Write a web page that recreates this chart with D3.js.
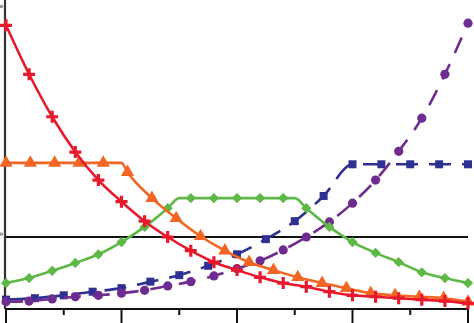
<!DOCTYPE html>
<html>
<head>
<meta charset="utf-8">
<script src="https://cdn.jsdelivr.net/npm/d3@7"></script>
<style>
  body { margin: 0; background: #fff; }
  .line { fill: none; stroke-width: 2.6; }
</style>
</head>
<body>
<svg id="draw"></svg>
<script>
// values (reference line = 1)
var xTicks = [0, 5, 10, 15, 20];
var xMinorTicks = [2.5, 7.5, 12.5, 17.5];

var redX = [0,1,2,3,4,5,6,7,8,9,10,11,12,13,14,15,16,17,18,19,20];
var redY = [3.94,3.26,2.67,2.18,1.79,1.49,1.22,1.0,0.81,0.65,0.54,0.44,0.36,0.31,0.24,0.19,0.17,0.15,0.13,0.11,0.08];

var orangeX = [0,1.053,2.105,3.158,4.211,5.263,6.316,7.368,8.421,9.474,10.526,11.579,12.632,13.684,14.737,15.789,16.842,17.895,18.947,20];
var orangeY = [2.03,2.03,2.03,2.03,2.03,1.90,1.54,1.26,1.01,0.81,0.65,0.54,0.44,0.36,0.29,0.22,0.19,0.17,0.15,0.10];
var orangeKink = [5, 2.03];

var greenX = [0,1,2,3,4,5,6,7,8,9,10,11,12,13,14,15,16,17,18,19,20];
var greenY = [0.36,0.43,0.53,0.64,0.76,0.93,1.14,1.40,1.54,1.54,1.54,1.54,1.54,1.40,1.14,0.93,0.78,0.65,0.51,0.43,0.36];
var greenKinks = [[7.5, 1.54], [12.5, 1.54]];

var blueX = [0,1.25,2.5,3.75,5,6.25,7.5,8.75,10,11.25,12.5,13.75,15,16.25,17.5,18.75,20];
var blueY = [0.13,0.15,0.19,0.24,0.29,0.38,0.47,0.60,0.76,0.97,1.22,1.57,2.01,2.01,2.01,2.01,2.01];

var purpleX = [0,1,2,3,4,5,6,7,8,9,10,11,12,13,14,15,16,17,18,19,20];
var purpleY = [0.10,0.11,0.14,0.17,0.19,0.22,0.26,0.32,0.38,0.46,0.56,0.67,0.82,1.00,1.21,1.47,1.79,2.19,2.65,3.26,3.97];

var width = 474, height = 323;

var svg = d3.select("#draw")
  .attr("width", width)
  .attr("height", height);

var xScale = d3.scaleLinear().domain([0, 20]).range([6, 468]);
var yScale = d3.scaleLinear().domain([0, 4.25]).range([309, 3]);

function pts(xs, ys) {
  return xs.map(function(x, i) { return [x, ys[i]]; });
}

var line = d3.line()
  .x(function(d) { return xScale(d[0]); })
  .y(function(d) { return yScale(d[1]); })
  .curve(d3.curveMonotoneX);

// y axis
svg.append("line")
  .attr("x1", 5).attr("x2", 5)
  .attr("y1", 0).attr("y2", yScale(0))
  .attr("stroke", "#333").attr("stroke-width", 2.2);

// stubs of cut-off labels on the left
svg.selectAll(".ystub")
  .data([4.2, 1.04])
  .enter().append("line")
  .attr("x1", 0).attr("x2", 3)
  .attr("y1", function(d) { return yScale(d); })
  .attr("y2", function(d) { return yScale(d); })
  .attr("stroke", "#999").attr("stroke-width", 3);

// reference line at 1
svg.append("line")
  .attr("x1", xScale(0)).attr("x2", xScale(20))
  .attr("y1", yScale(1)).attr("y2", yScale(1))
  .attr("stroke", "#111").attr("stroke-width", 2);

// x axis
var xAxis = svg.append("g")
  .attr("transform", "translate(0," + yScale(0) + ")");
xAxis.append("line")
  .attr("x1", xScale(0) - 1).attr("x2", xScale(20) + 1)
  .attr("stroke", "#111").attr("stroke-width", 2);
xAxis.selectAll(".major")
  .data(xTicks)
  .enter().append("line")
  .attr("x1", function(d) { return xScale(d); })
  .attr("x2", function(d) { return xScale(d); })
  .attr("y1", 0).attr("y2", 16)
  .attr("stroke", "#111").attr("stroke-width", 2);
xAxis.selectAll(".minor")
  .data(xMinorTicks)
  .enter().append("line")
  .attr("x1", function(d) { return xScale(d); })
  .attr("x2", function(d) { return xScale(d); })
  .attr("y1", 0).attr("y2", 6)
  .attr("stroke", "#111").attr("stroke-width", 2);

// blue squares, dashed
var blue = pts(blueX, blueY);
svg.append("path").datum(blue)
  .attr("class", "line")
  .attr("stroke", "#2e3192")
  .attr("stroke-dasharray", "22,11")
  .attr("d", line);
svg.selectAll(".sq").data(blue)
  .enter().append("rect")
  .attr("x", function(d) { return xScale(d[0]) - 4; })
  .attr("y", function(d) { return yScale(d[1]) - 4; })
  .attr("width", 8).attr("height", 8)
  .attr("fill", "#2e3192");

// purple circles, dashed
var purple = pts(purpleX, purpleY);
svg.append("path").datum(purple)
  .attr("class", "line")
  .attr("stroke", "#6e2c90")
  .attr("stroke-dasharray", "17,12")
  .attr("d", line);
svg.selectAll(".dot").data(purple)
  .enter().append("circle")
  .attr("cx", function(d) { return xScale(d[0]); })
  .attr("cy", function(d) { return yScale(d[1]); })
  .attr("r", 4.6)
  .attr("fill", "#6e2c90");

// green diamonds
var green = pts(greenX, greenY);
var greenLine = green.concat(greenKinks).sort(function(a, b) { return a[0] - b[0]; });
svg.append("path").datum(greenLine)
  .attr("class", "line")
  .attr("stroke", "#5db845")
  .attr("d", line);
svg.selectAll(".dia").data(green)
  .enter().append("path")
  .attr("transform", function(d) { return "translate(" + xScale(d[0]) + "," + yScale(d[1]) + ") rotate(45)"; })
  .attr("d", d3.symbol().type(d3.symbolSquare).size(52))
  .attr("fill", "#5db845");

// orange triangles
var orange = pts(orangeX, orangeY);
var orangeLine = orange.concat([orangeKink]).sort(function(a, b) { return a[0] - b[0]; });
svg.append("path").datum(orangeLine)
  .attr("class", "line")
  .attr("stroke", "#f26522")
  .attr("d", line);
svg.selectAll(".tri").data(orange)
  .enter().append("path")
  .attr("transform", function(d) { return "translate(" + xScale(d[0]) + "," + yScale(d[1]) + ")"; })
  .attr("d", d3.symbol().type(d3.symbolTriangle).size(75))
  .attr("fill", "#f26522");

// red crosses
var red = pts(redX, redY);
svg.append("path").datum(red)
  .attr("class", "line")
  .attr("stroke", "#e8192c")
  .attr("d", line);
svg.selectAll(".cross").data(red)
  .enter().append("path")
  .attr("transform", function(d) { return "translate(" + xScale(d[0]) + "," + yScale(d[1]) + ")"; })
  .attr("d", "M-6,0H6M0,-6V6")
  .attr("stroke", "#e8192c")
  .attr("stroke-width", 3.2)
  .attr("fill", "none");
</script>
</body>
</html>
